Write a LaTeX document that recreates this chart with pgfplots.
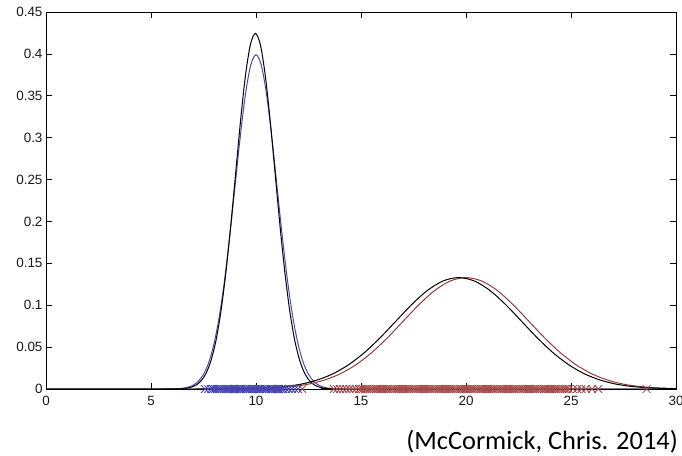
\documentclass[border=0pt]{standalone}
\usepackage{pgfplots}
\pgfplotsset{compat=1.18}
\usepackage{fontspec}
\setmainfont{Liberation Sans}
\newfontfamily\capfont{Carlito}
\definecolor{bmark}{RGB}{70,70,175}
\definecolor{rmark}{RGB}{165,75,75}
\definecolor{bline}{RGB}{75,75,175}
\definecolor{rline}{RGB}{150,60,60}
\begin{document}
\begin{tikzpicture}
\begin{axis}[
  at={(0,0)}, anchor=south west,
  scale only axis, width=630bp, height=377bp,
  xmin=0, xmax=30, ymin=0, ymax=0.45,
  xtick={0,5,10,15,20,25,30},
  xticklabels={0,5,10,15,20,25,30},
  ytick={0,0.05,0.1,0.15,0.2,0.25,0.3,0.35,0.4,0.45},
  yticklabels={0,0.05,0.1,0.15,0.2,0.25,0.3,0.35,0.4,0.45},
  tick align=inside, tick pos=both, major tick length=6bp,
  axis line style={line width=0.9bp, black},
  every tick/.style={black, line width=0.7bp},
  tick label style={font=\fontsize{13.5}{15}\selectfont, text=black!90},
  x tick label style={yshift=-3.5bp},
  clip marker paths=false,
]
% sample markers
\addplot[only marks, mark=x, mark size=5.6bp, color=bmark, line width=0.8bp] coordinates {
(7.57,0)(7.72,0)(7.85,0)(7.95,0)(8.05,0)(8.15,0)(8.25,0)(8.35,0)(8.45,0)(8.55,0)
(8.6,0)(8.7,0)(8.8,0)(8.9,0)(9.0,0)(9.1,0)(9.2,0)(9.3,0)(9.4,0)(9.5,0)
(9.6,0)(9.7,0)(9.8,0)(9.9,0)(10.0,0)(10.1,0)(10.2,0)(10.3,0)(10.4,0)(10.5,0)
(10.6,0)(10.7,0)(10.8,0)(10.9,0)(11.0,0)(11.1,0)(11.2,0)(11.3,0)
(11.42,0)(11.55,0)(11.7,0)(11.85,0)(12.0,0)
(8.65,0)(8.95,0)(9.25,0)(9.55,0)(9.85,0)(10.15,0)(10.45,0)(10.75,0)(11.05,0)
};
\addplot[only marks, mark=x, mark size=5.6bp, color=rmark, line width=0.8bp] coordinates {
(12.2,0)(13.7,0)(13.85,0)(14.0,0)(14.15,0)(14.3,0)(14.45,0)(14.6,0)(14.75,0)
(14.9,0)(15.0,0)(15.1,0)(15.2,0)(15.3,0)(15.4,0)(15.5,0)(15.6,0)(15.7,0)(15.8,0)(15.9,0)
(16.0,0)(16.1,0)(16.2,0)(16.3,0)(16.4,0)(16.5,0)(16.6,0)(16.7,0)(16.8,0)(16.9,0)
(17.0,0)(17.1,0)(17.2,0)(17.3,0)(17.4,0)(17.5,0)(17.6,0)(17.7,0)(17.8,0)(17.9,0)
(18.0,0)(18.1,0)(18.2,0)(18.3,0)(18.4,0)(18.5,0)(18.6,0)(18.7,0)(18.8,0)(18.9,0)
(19.0,0)(19.1,0)(19.2,0)(19.3,0)(19.4,0)(19.5,0)(19.6,0)(19.7,0)(19.8,0)(19.9,0)
(20.0,0)(20.1,0)(20.2,0)(20.3,0)(20.4,0)(20.5,0)(20.6,0)(20.7,0)(20.8,0)(20.9,0)
(21.0,0)(21.1,0)(21.2,0)(21.3,0)(21.4,0)(21.5,0)(21.6,0)(21.7,0)(21.8,0)(21.9,0)
(22.0,0)(22.1,0)(22.2,0)(22.3,0)(22.4,0)(22.5,0)(22.6,0)(22.7,0)(22.8,0)(22.9,0)
(23.0,0)(23.1,0)(23.2,0)(23.3,0)(23.4,0)(23.5,0)(23.6,0)(23.7,0)(23.8,0)(23.9,0)
(24.0,0)(24.1,0)(24.2,0)(24.3,0)(24.4,0)(24.5,0)(24.6,0)(24.7,0)(24.8,0)(24.9,0)
(25.1,0)(25.3,0)(25.5,0)(25.7,0)(26.0,0)(26.3,0)(28.6,0)
};
% fitted / true densities
\addplot[color=bline, line width=1bp, smooth] coordinates {
(0,0)(5.5,0)(6,0.00013)(6.25,0.00035)(6.5,0.00087)(6.75,0.0020)(7,0.0044)(7.25,0.0091)
(7.5,0.0175)(7.75,0.0317)(8,0.0540)(8.25,0.0863)(8.5,0.1295)(8.75,0.1826)(9,0.2420)
(9.25,0.3011)(9.5,0.3521)(9.75,0.3867)(10,0.3989)(10.25,0.3867)(10.5,0.3521)
(10.75,0.3011)(11,0.2420)(11.25,0.1826)(11.5,0.1295)(11.75,0.0863)(12,0.0540)
(12.25,0.0317)(12.5,0.0175)(12.75,0.0091)(13,0.0044)(13.25,0.0020)(13.5,0.00087)
(13.75,0.00035)(14,0.00013)(14.5,0)(30,0)
};
\addplot[color=black, line width=1bp, smooth] coordinates {
(0,0)(5.7,0)(6.21,0.00014)(6.445,0.00038)(6.68,0.00093)(6.915,0.0022)(7.15,0.0047)
(7.385,0.0097)(7.62,0.0186)(7.855,0.0338)(8.09,0.0574)(8.325,0.0918)(8.56,0.1378)
(8.795,0.1943)(9.03,0.2574)(9.265,0.3204)(9.5,0.3745)(9.735,0.4113)(9.97,0.4244)
(10.205,0.4113)(10.44,0.3745)(10.675,0.3204)(10.91,0.2574)(11.145,0.1943)
(11.38,0.1378)(11.615,0.0918)(11.85,0.0574)(12.085,0.0338)(12.32,0.0186)
(12.555,0.0097)(12.79,0.0047)(13.025,0.0022)(13.26,0.00093)(13.495,0.00038)
(13.73,0.00014)(14.2,0)(30,0)
};
\addplot[color=rline, line width=1bp, smooth] coordinates {
(0,0)(7.5,0)(8,0.00004)(8.75,0.00012)(9.5,0.00029)(10.25,0.00068)(11,0.0015)(11.75,0.0030)
(12.5,0.0058)(13.25,0.0106)(14,0.0180)(14.75,0.0288)(15.5,0.0432)(16.25,0.0609)
(17,0.0807)(17.75,0.1004)(18.5,0.1174)(19.25,0.1289)(20,0.1330)(20.75,0.1289)
(21.5,0.1174)(22.25,0.1004)(23,0.0807)(23.75,0.0609)(24.5,0.0432)(25.25,0.0288)
(26,0.0180)(26.75,0.0106)(27.5,0.0058)(28.25,0.0030)(29,0.0015)(29.75,0.00068)
(30.5,0.00029)
};
\addplot[color=black, line width=1bp, smooth] coordinates {
(0,0)(7.15,0)(7.65,0.00004)(8.4,0.00012)(9.15,0.00029)(9.9,0.00068)(10.65,0.0015)
(11.4,0.0030)(12.15,0.0058)(12.9,0.0106)(13.65,0.0180)(14.4,0.0288)(15.15,0.0432)
(15.9,0.0609)(16.65,0.0807)(17.4,0.1004)(18.15,0.1174)(18.9,0.1289)(19.65,0.1330)
(20.4,0.1289)(21.15,0.1174)(21.9,0.1004)(22.65,0.0807)(23.4,0.0609)(24.15,0.0432)
(24.9,0.0288)(25.65,0.0180)(26.4,0.0106)(27.15,0.0058)(27.9,0.0030)(28.65,0.0015)
(29.4,0.00068)(30.15,0.00029)
};
\end{axis}
\node[anchor=base east, inner sep=0pt, font=\capfont\fontsize{26.5}{30}\selectfont] at (632bp,-60.5bp) {(McCormick, Chris. 2014)};
\pgfresetboundingbox
\path[use as bounding box] (-46bp,-67bp) rectangle (636bp,389bp);
\end{tikzpicture}
\end{document}
